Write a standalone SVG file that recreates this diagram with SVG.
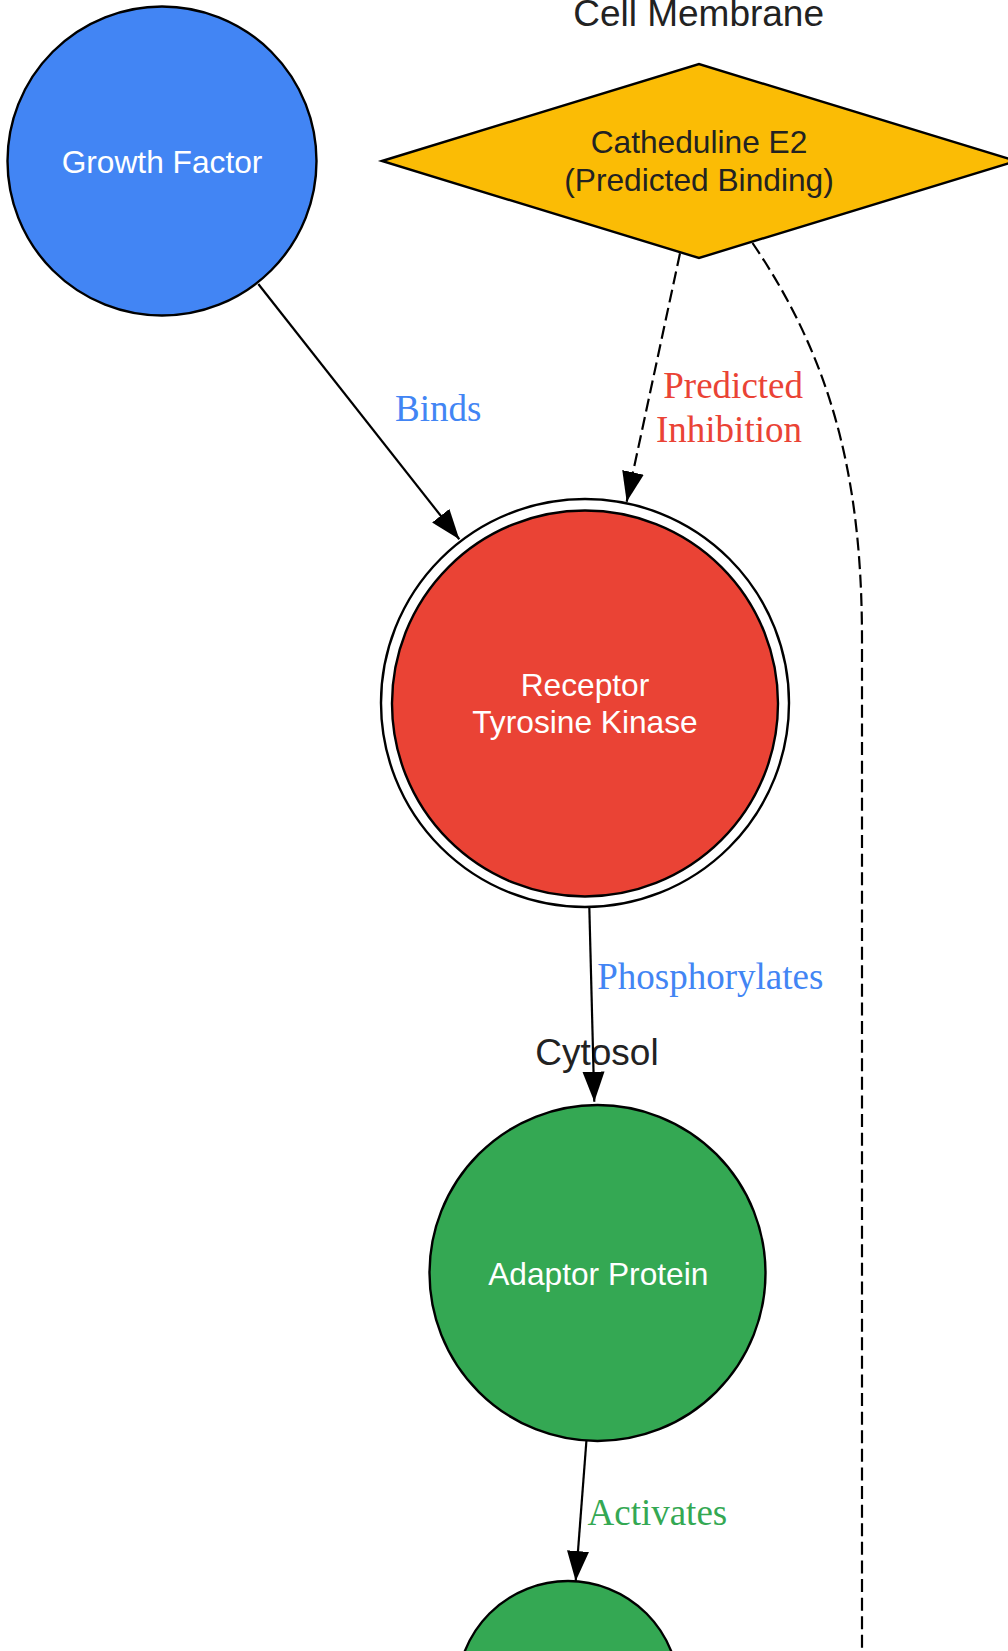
<svg xmlns="http://www.w3.org/2000/svg" width="1008" height="1651" viewBox="0 0 1008 1651">
<style>
.node{stroke:#000;stroke-width:2.4}
.lbl{font-family:"Liberation Sans",Arial,sans-serif;font-size:31.7px;text-anchor:middle}
.cl{font-family:"Liberation Sans",Arial,sans-serif;font-size:37px;text-anchor:middle;fill:#222}
.el{font-family:"Liberation Serif","Times New Roman",serif;font-size:37px}
.edge{fill:none;stroke:#000;stroke-width:2.2}
.dash{stroke-dasharray:13,5.6}
</style>
<defs>
<marker id="arr" markerUnits="userSpaceOnUse" markerWidth="32" markerHeight="24" refX="30" refY="11" orient="auto" viewBox="0 0 32 24">
<path d="M0,0 L30,11 L0,22 Z" fill="#000"/>
</marker>
</defs>
<rect width="1008" height="1651" fill="#fff"/>
<text class="cl" x="698.6" y="26">Cell Membrane</text>
<text class="cl" x="597" y="1065">Cytosol</text>
<g id="connectors">
<path class="edge" d="M258.3,284 L459.3,539.3" marker-end="url(#arr)"/>
<path class="edge dash" d="M680,253.3 L626.7,501.7" marker-end="url(#arr)"/>
<path class="edge dash" d="M752.5,243 C837,367 862,490 862,640 L862,1651"/>
<path class="edge" d="M589.3,906.7 L594.3,1101.7" marker-end="url(#arr)"/>
<path class="edge" d="M586.4,1441 L575.7,1581" marker-end="url(#arr)"/>
<text class="el" x="395" y="420.7" fill="#4285F4">Binds</text>
<text class="el" x="663.3" y="397.7" fill="#EA4335">Predicted</text>
<text class="el" x="656" y="441.7" fill="#EA4335">Inhibition</text>
<text class="el" x="597.3" y="989.3" fill="#4285F4">Phosphorylates</text>
<text class="el" x="587.5" y="1525" fill="#34A853">Activates</text>
</g>
<g id="growth_factor">
<circle class="node" cx="162" cy="161" r="154.5" fill="#4285F4"/>
<text class="lbl" x="162" y="173" fill="#fff">Growth Factor</text>
</g>
<g id="catheduline_e2">
<polygon class="node" points="382,161 699,64 1016,161 699,258" fill="#FBBC05"/>
<text class="lbl" x="699" y="153.3" fill="#222">Catheduline E2</text>
<text class="lbl" x="699" y="190.7" fill="#222">(Predicted Binding)</text>
</g>
<g id="rtk">
<circle class="node" cx="585" cy="703" r="204" fill="none"/>
<circle class="node" cx="585" cy="703.5" r="193" fill="#EA4335"/>
<text class="lbl" x="585" y="696" fill="#fff">Receptor</text>
<text class="lbl" x="585" y="733" fill="#fff">Tyrosine Kinase</text>
</g>
<g id="adaptor_protein">
<circle class="node" cx="597.5" cy="1273" r="168" fill="#34A853"/>
<text class="lbl" x="598.3" y="1285" fill="#fff">Adaptor Protein</text>
</g>
<g id="downstream">
<circle class="node" cx="568" cy="1692" r="111" fill="#34A853"/>
</g>
</svg>
